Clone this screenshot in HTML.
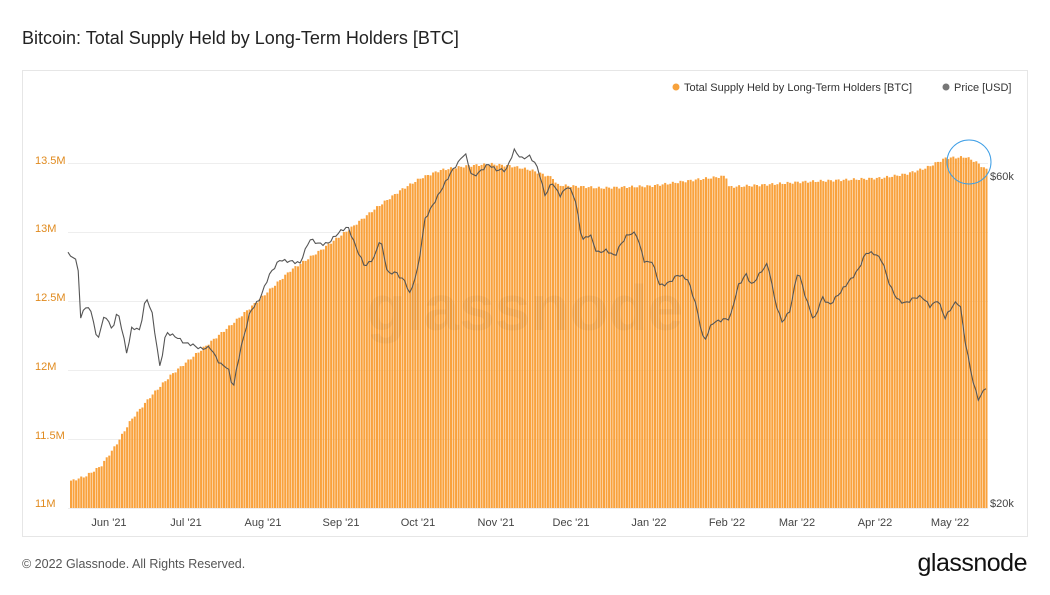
<!DOCTYPE html>
<html><head><meta charset="utf-8"><style>
body{margin:0;background:#fff;width:1050px;height:590px;overflow:hidden;font-family:"Liberation Sans",sans-serif}
</style></head><body>
<svg id="s" width="1050" height="590" xmlns="http://www.w3.org/2000/svg" font-family="Liberation Sans, sans-serif">
<rect width="1050" height="590" fill="#fff"/>
<text x="22" y="44" font-size="18" fill="#222">Bitcoin: Total Supply Held by Long-Term Holders [BTC]</text>
<rect x="22.5" y="70.5" width="1005" height="466" fill="#fff" stroke="#e6e6e6"/>
<g id="grid" stroke="#eeeeee" stroke-width="1"></g>
<g font-size="11" fill="#e08a1e" text-anchor="start">
<text x="35" y="164">13.5M</text><text x="35" y="232">13M</text><text x="35" y="301">12.5M</text>
<text x="35" y="370">12M</text><text x="35" y="439">11.5M</text><text x="35" y="507">11M</text></g>
<g id="bars" fill="#f9a23d"></g>
<text x="525" y="330" font-size="64" fill="#000" fill-opacity="0.04" text-anchor="middle" font-weight="bold">glassnode</text>
<polyline id="price" fill="none" stroke="#555" stroke-width="1.1"/>
<circle cx="969" cy="162" r="22" fill="none" stroke="#3d9ee6" stroke-width="1"/>
<g font-size="11" fill="#444"><text x="990" y="180">$60k</text><text x="990" y="507">$20k</text></g>
<g font-size="11" fill="#444" text-anchor="middle">
<text x="109" y="526">Jun '21</text><text x="186" y="526">Jul '21</text><text x="263" y="526">Aug '21</text>
<text x="341" y="526">Sep '21</text><text x="418" y="526">Oct '21</text><text x="496" y="526">Nov '21</text>
<text x="571" y="526">Dec '21</text><text x="649" y="526">Jan '22</text><text x="727" y="526">Feb '22</text>
<text x="797" y="526">Mar '22</text><text x="875" y="526">Apr '22</text><text x="950" y="526">May '22</text></g>
<circle cx="676" cy="87" r="3.5" fill="#f7a23c"/>
<text x="684" y="91" font-size="11" fill="#333">Total Supply Held by Long-Term Holders [BTC]</text>
<circle cx="946" cy="87" r="3.5" fill="#777"/>
<text x="954" y="91" font-size="11" fill="#333">Price [USD]</text>
<text x="22" y="568" font-size="12.5" fill="#555">© 2022 Glassnode. All Rights Reserved.</text>
<text x="1027" y="571" font-size="25" fill="#111" text-anchor="end" letter-spacing="-0.5">glassnode</text>
</svg>
<script>
var NS="http://www.w3.org/2000/svg";
var g=document.getElementById('grid');
[163,232,301,370,439,508].forEach(function(y){var l=document.createElementNS(NS,'line');l.setAttribute('x1',68);l.setAttribute('x2',988);l.setAttribute('y1',y+.5);l.setAttribute('y2',y+.5);g.appendChild(l);});
var sk=[[70,481],[85,476],[100,466],[115,445],[130,420],[150,396],[170,375],[200,350],[230,325],[260,298],[290,270],[320,250],[350,228],[375,208],[400,190],[420,178],[440,170],[465,166],[490,164],[510,166],[530,170],[552,178],[556,185],[600,188],[650,186],[700,179],[725,176],[728,187],[760,185],[800,182],[840,180],[880,178],[905,174],[925,168],[945,158],[965,157],[975,162],[986,170]];
function interp(a,x){for(var i=0;i<a.length-1;i++){if(x<=a[i+1][0]){var t=(x-a[i][0])/(a[i+1][0]-a[i][0]);return a[i][1]+t*(a[i+1][1]-a[i][1]);}}return a[a.length-1][1];}
var b=document.getElementById('bars'),h='';
for(var x=70;x<=987;x+=2.55){var y=interp(sk,x)+Math.sin(x*1.7)*1.2;h+='<rect x="'+x.toFixed(2)+'" y="'+y.toFixed(1)+'" width="2.05" height="'+(508-y).toFixed(1)+'"/>';}
b.innerHTML=h;
var p=[[68,255],[72,258],[78,265],[80,322],[85,305],[92,310],[97,340],[105,315],[112,332],[118,312],[127,352],[132,325],[140,330],[146,298],[152,315],[160,368],[166,330],[175,335],[185,345],[200,348],[210,345],[220,365],[228,370],[233,390],[240,350],[250,310],[260,300],[270,275],[280,258],[290,260],[300,265],[310,240],[318,242],[328,242],[338,235],[348,228],[358,250],[365,265],[375,258],[380,240],[388,275],[395,270],[405,280],[410,295],[418,270],[425,220],[432,205],[440,190],[450,175],[458,165],[465,153],[472,175],[480,170],[488,165],[496,172],[506,170],[514,148],[522,158],[530,158],[538,170],[545,195],[552,180],[560,195],[568,188],[575,200],[582,240],[590,232],[597,252],[606,252],[615,258],[620,245],[628,232],[636,232],[645,265],[652,263],[660,285],[670,280],[678,275],[688,282],[696,305],[704,340],[712,322],[722,322],[730,320],[738,285],[746,272],[752,285],[760,275],[768,265],[775,300],[782,320],[790,310],[798,272],[806,300],[814,320],[822,295],[830,305],[840,295],[850,280],[858,268],[866,252],[874,255],[882,262],[890,285],[898,298],[906,303],[914,300],[922,298],[930,305],[938,298],[945,318],[955,305],[960,305],[965,340],[972,375],[978,398],[983,392],[986,388],[988,390]];
var pts=[];for(var x=68;x<=988;x+=2.55){var y=interp(p,x)+Math.sin(x*2.3)*2+Math.sin(x*0.9)*1.5;pts.push(x.toFixed(1)+','+y.toFixed(1));}
document.getElementById('price').setAttribute('points',pts.join(' '));
</script>
</body></html>
